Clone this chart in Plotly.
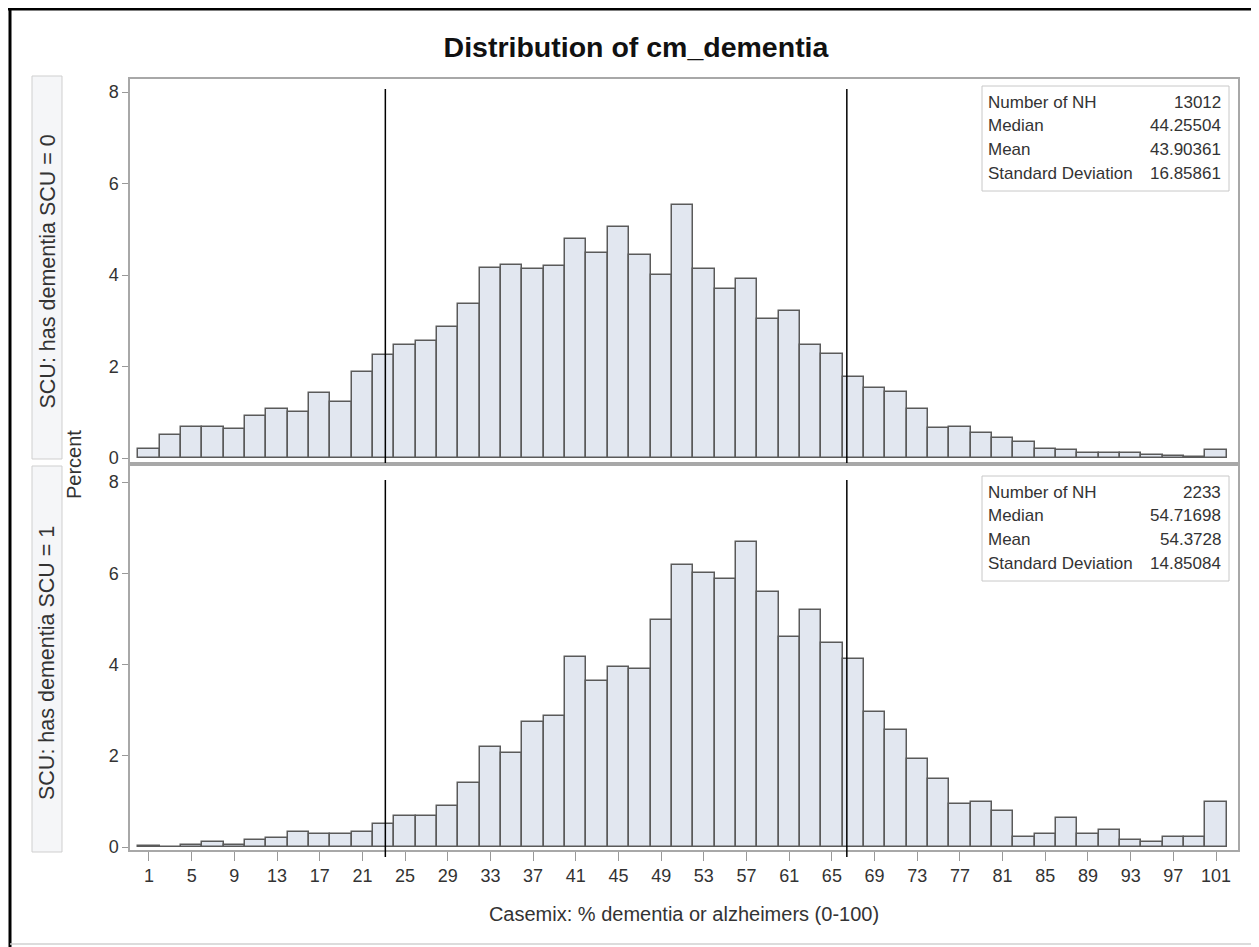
import plotly.graph_objects as go

# ---------------- data ----------------
bin_centers = [1, 3, 5, 7, 9, 11, 13, 15, 17, 19, 21, 23, 25, 27, 29, 31, 33, 35, 37, 39,
               41, 43, 45, 47, 49, 51, 53, 55, 57, 59, 61, 63, 65, 67, 69, 71, 73, 75, 77, 79,
               81, 83, 85, 87, 89, 91, 93, 95, 97, 99, 101]

pct_scu0 = [0.20, 0.51, 0.68, 0.68, 0.64, 0.92, 1.08, 1.00, 1.43, 1.22,
            1.87, 2.25, 2.47, 2.56, 2.87, 3.37, 4.15, 4.22, 4.13, 4.19,
            4.78, 4.49, 5.04, 4.44, 4.00, 5.54, 4.14, 3.70, 3.92, 3.03,
            3.21, 2.46, 2.28, 1.76, 1.54, 1.44, 1.07, 0.66, 0.68, 0.54,
            0.44, 0.35, 0.20, 0.17, 0.12, 0.10, 0.10, 0.06, 0.04, 0.02, 0.18]

pct_scu1 = [0.02, 0.01, 0.05, 0.10, 0.05, 0.15, 0.20, 0.32, 0.28, 0.28,
            0.32, 0.50, 0.67, 0.67, 0.89, 1.40, 2.20, 2.05, 2.74, 2.87,
            4.16, 3.64, 3.95, 3.91, 4.97, 6.18, 6.00, 5.87, 6.68, 5.60,
            4.61, 5.20, 4.48, 4.13, 2.96, 2.56, 1.93, 1.49, 0.94, 0.98,
            0.80, 0.23, 0.29, 0.63, 0.29, 0.37, 0.15, 0.11, 0.23, 0.23, 0.98]

x_tick_vals = [1, 5, 9, 13, 17, 21, 25, 29, 33, 37, 41, 45, 49, 53, 57, 61, 65, 69, 73,
               77, 81, 85, 89, 93, 97, 101]
y_tick_vals = [0, 2, 4, 6, 8]
ref_lines = [23.15, 66.4]

stat_labels = ["Number of NH", "Median", "Mean", "Standard Deviation"]
stats_scu0 = ["13012", "44.25504", "43.90361", "16.85861"]
stats_scu1 = ["2233", "54.71698", "54.3728", "14.85084"]

strip_labels = ["SCU: has dementia SCU = 0", "SCU: has dementia SCU = 1"]
title_text = "Distribution of cm_dementia"
x_title = "Casemix: % dementia or alzheimers (0-100)"
y_title = "Percent"

# ---------------- layout geometry ----------------
# All positions below are given in screenshot pixels; the page body has an
# 8px default margin, so the figure is shifted by OFF.
OFF = 8
W, H = 1259 - OFF, 947 - OFF
L, R, T, B = 130, 1238, 79, 850   # plot area in screenshot pixels


def PX(px):
    return (px - L) / (R - L)


def PY(py):
    return (B - py) / (B - T)


FONT = "Liberation Sans, Arial, Helvetica, sans-serif"
TXT = "#333333"
FRAME = "#a8a8a8"
BAR_FILL = "#e2e7f0"
BAR_LINE = "#5a5a5a"

fig = go.Figure()
fig.add_trace(go.Bar(x=bin_centers, y=pct_scu0, width=2, xaxis="x", yaxis="y",
                     marker=dict(color=BAR_FILL, line=dict(color=BAR_LINE, width=1.5)),
                     showlegend=False, hoverinfo="x+y"))
fig.add_trace(go.Bar(x=bin_centers, y=pct_scu1, width=2, xaxis="x2", yaxis="y2",
                     marker=dict(color=BAR_FILL, line=dict(color=BAR_LINE, width=1.5)),
                     showlegend=False, hoverinfo="x+y"))

xrange = [-0.78, 103.06]
top_dom = [PY(462), 1.0]
bot_dom = [0.0, PY(466)]
u_top = (458 - 92) / 8
u_bot = (847 - 482) / 8
yr_top = [-(462 - 458) / u_top, 8 + (92 - 79) / u_top]
yr_bot = [-(850 - 847) / u_bot, 8 + (482 - 466) / u_bot]

axis_common = dict(showgrid=False, zeroline=False, showline=True, mirror=True,
                   linecolor=FRAME, linewidth=1.5)

fig.update_layout(
    width=W, height=H,
    margin=dict(l=L - OFF, r=1259 - R, t=T - OFF, b=947 - B),
    paper_bgcolor="white", plot_bgcolor="white",
    bargap=0,
    font=dict(family=FONT, color=TXT, size=18),
    title=dict(text="<b>" + title_text + "</b>", x=(636 - OFF) / W, xanchor="center",
               y=1 - (47 - OFF) / H, yanchor="middle",
               font=dict(family=FONT, size=28.5, color="#111111")),
    xaxis=dict(domain=[0, 1], anchor="y", range=xrange, showticklabels=False,
               ticks="", tickvals=x_tick_vals, **axis_common),
    yaxis=dict(domain=top_dom, anchor="x", range=yr_top, tickvals=y_tick_vals,
               ticks="outside", ticklen=6, tickcolor="#999999", tickwidth=1,
               tickfont=dict(size=18, color=TXT), **axis_common),
    xaxis2=dict(domain=[0, 1], anchor="y2", range=xrange, tickvals=x_tick_vals,
                ticks="outside", ticklen=9, tickcolor="#999999", tickwidth=1,
                tickfont=dict(size=18, color=TXT),
                title=dict(text=x_title, font=dict(size=20, color=TXT), standoff=22),
                **axis_common),
    yaxis2=dict(domain=bot_dom, anchor="x2", range=yr_bot, tickvals=y_tick_vals,
                ticks="outside", ticklen=6, tickcolor="#999999", tickwidth=1,
                tickfont=dict(size=18, color=TXT), **axis_common),
)

shapes = []
annotations = []

# reference vertical lines
for xv in ref_lines:
    shapes.append(dict(type="line", xref="x", yref="paper", x0=xv, x1=xv,
                       y0=PY(463), y1=PY(89), line=dict(color="black", width=1.5)))
    shapes.append(dict(type="line", xref="x2", yref="paper", x0=xv, x1=xv,
                       y0=PY(857), y1=PY(480), line=dict(color="black", width=1.5)))

# statistics inset boxes
box_tops = [86, 476]
for top, vals in zip(box_tops, [stats_scu0, stats_scu1]):
    shapes.append(dict(type="rect", xref="paper", yref="paper",
                       x0=PX(982), x1=PX(1229), y0=PY(top + 105), y1=PY(top),
                       line=dict(color="#c8c8c8", width=1), fillcolor="rgba(0,0,0,0)"))
    for i, (lab, val) in enumerate(zip(stat_labels, vals)):
        yc = top + 16 + i * 23.7
        annotations.append(dict(text=lab, xref="paper", yref="paper", x=PX(986), y=PY(yc),
                                xanchor="left", yanchor="middle", showarrow=False,
                                font=dict(size=17, color=TXT)))
        annotations.append(dict(text=val, xref="paper", yref="paper", x=PX(1223), y=PY(yc),
                                xanchor="right", yanchor="middle", showarrow=False,
                                font=dict(size=17, color=TXT)))

# row strips
strip_boxes = [(76, 459), (466, 852)]
for (y0, y1), lab in zip(strip_boxes, strip_labels):
    shapes.append(dict(type="rect", xref="paper", yref="paper", layer="below",
                       x0=PX(32), x1=PX(62), y0=PY(y1), y1=PY(y0),
                       line=dict(color="#cfcfcf", width=1), fillcolor="#f5f6f8"))
    annotations.append(dict(text=lab, xref="paper", yref="paper", x=PX(47),
                            y=PY((y0 + y1) / 2 + 4), textangle=-90, xanchor="center",
                            yanchor="middle", showarrow=False,
                            font=dict(size=21.5, color=TXT)))

# shared y-axis title
annotations.append(dict(text=y_title, xref="paper", yref="paper", x=PX(74), y=PY(465),
                        textangle=-90, xanchor="center", yanchor="middle", showarrow=False,
                        font=dict(size=20, color=TXT)))

# outer frame of the image
shapes.append(dict(type="line", xref="paper", yref="paper", x0=PX(8), x1=PX(1259),
                   y0=PY(9), y1=PY(9), line=dict(color="black", width=3)))
shapes.append(dict(type="line", xref="paper", yref="paper", x0=PX(10), x1=PX(10),
                   y0=PY(8), y1=PY(947), line=dict(color="black", width=3)))
shapes.append(dict(type="line", xref="paper", yref="paper", x0=PX(1254), x1=PX(1254),
                   y0=PY(8), y1=PY(944), line=dict(color="#555555", width=1.5)))
shapes.append(dict(type="line", xref="paper", yref="paper", x0=PX(10), x1=PX(1254),
                   y0=PY(944), y1=PY(944), line=dict(color="#d0d0d0", width=1.5)))

fig.update_layout(shapes=shapes, annotations=annotations)

fig.write_html("out.html")
